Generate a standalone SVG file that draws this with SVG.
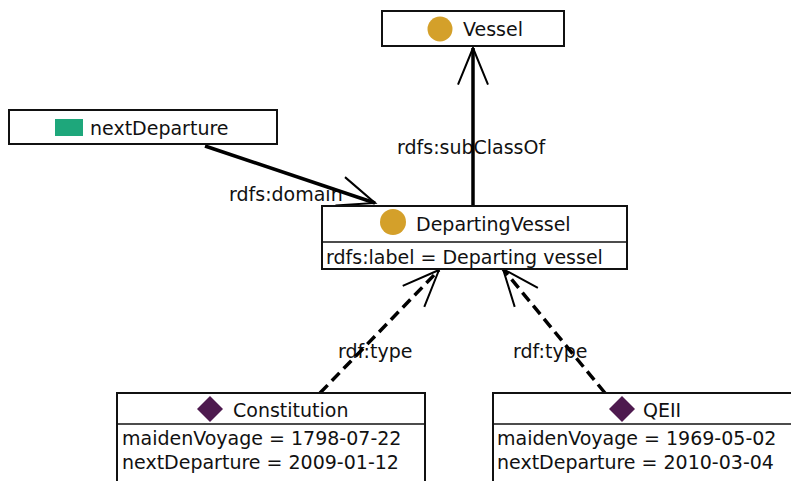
<svg xmlns="http://www.w3.org/2000/svg" width="791" height="481" viewBox="0 0 791 481">
<style>
text{font-family:"DejaVu Sans","Liberation Sans",sans-serif;font-size:19px;fill:#111}
.box{fill:#fff;stroke:#111;stroke-width:2}
.div{stroke:#111;stroke-width:1.5}
.cls{fill:#d4a02a}
.ind{fill:#4e1a4f}
.edge{stroke:#000;stroke-width:3.5;fill:none}
.dash{stroke-dasharray:11 6}
</style>
<defs>
<marker id="arr" markerUnits="userSpaceOnUse" markerWidth="40" markerHeight="40" refX="0" refY="0" viewBox="-22 -12 24 24" orient="auto" overflow="visible">
<path d="M-22,-9 L0,0 L-22,9" fill="none" stroke="#000" stroke-width="1.2"/>
</marker>
</defs>
<rect width="791" height="481" fill="#fff"/>
<g id="connectors">
<text x="397" y="154">rdfs:subClassOf</text>
<text x="229" y="201">rdfs:domain</text>
<text x="338" y="358">rdf:type</text>
<text x="513" y="358">rdf:type</text>
<line class="edge" x1="473" y1="206" x2="473" y2="48" marker-end="url(#arr)"/>
<line class="edge" x1="205" y1="146" x2="375" y2="203" marker-end="url(#arr)"/>
<line class="edge dash" x1="320" y1="393" x2="439" y2="270" marker-end="url(#arr)"/>
<line class="edge dash" x1="605" y1="393" x2="503" y2="269" marker-end="url(#arr)"/>
</g>
<g id="vessel">
<rect class="box" x="382" y="11" width="182" height="35"/>
<circle class="cls" cx="440" cy="29" r="12.5"/>
<text x="463" y="36">Vessel</text>
</g>
<g id="nextDeparture">
<rect class="box" x="9" y="110" width="268" height="34"/>
<rect x="55" y="119" width="28" height="17" fill="#1ea77b"/>
<text x="90" y="135">nextDeparture</text>
</g>
<g id="departingVessel">
<rect class="box" x="322" y="206" width="305" height="63"/>
<line class="div" x1="322" y1="242" x2="627" y2="242"/>
<circle class="cls" cx="393" cy="222" r="13"/>
<text x="416" y="231">DepartingVessel</text>
<text x="326" y="264">rdfs:label = Departing vessel</text>
</g>
<g id="constitution">
<rect class="box" x="117" y="393" width="308" height="100"/>
<line class="div" x1="117" y1="424" x2="425" y2="424"/>
<path class="ind" d="M210,396 L223,409 L210,422 L197,409 Z"/>
<text x="233" y="417">Constitution</text>
<text x="122" y="445">maidenVoyage = 1798-07-22</text>
<text x="122" y="469">nextDeparture = 2009-01-12</text>
</g>
<g id="qeii">
<rect class="box" x="493" y="393" width="310" height="100"/>
<line class="div" x1="493" y1="424" x2="803" y2="424"/>
<path class="ind" d="M622,396 L635,409 L622,422 L609,409 Z"/>
<text x="643" y="417">QEII</text>
<text x="497" y="445">maidenVoyage = 1969-05-02</text>
<text x="497" y="469">nextDeparture = 2010-03-04</text>
</g>
</svg>
